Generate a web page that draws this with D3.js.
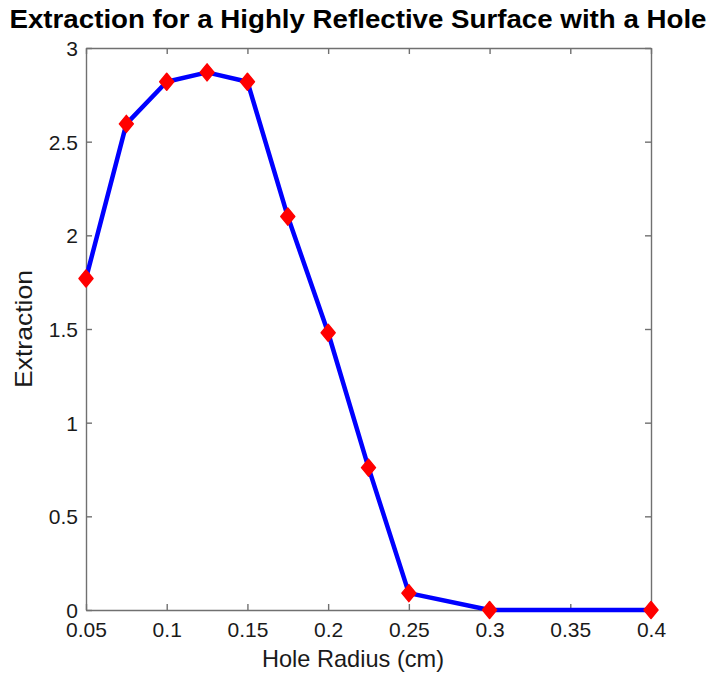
<!DOCTYPE html>
<html>
<head>
<meta charset="utf-8">
<script src="https://d3js.org/d3.v7.min.js"></script>
<style>
  body { margin: 0; background: #fff; }
  svg { display: block; font-family: "Liberation Sans", Arial, sans-serif; }
</style>
</head>
<body>
<div id="chart"></div>
<script>
// Hole radius (cm) vs extraction
const holeRadius = [0.05, 0.075, 0.1, 0.125, 0.15, 0.175, 0.2, 0.225, 0.25, 0.3, 0.4];
const extraction = [1.77, 2.595, 2.82, 2.87, 2.82, 2.10, 1.48, 0.76, 0.09, 0, 0];
const xTicks = [0.05, 0.1, 0.15, 0.2, 0.25, 0.3, 0.35, 0.4];
const yTicks = [0, 0.5, 1, 1.5, 2, 2.5, 3];

const width = 717, height = 677;
const margin = { top: 48, right: 66, bottom: 67, left: 86 };
const innerW = width - margin.left - margin.right;
const innerH = height - margin.top - margin.bottom;
const axisColor = "#707070";
const textColor = "#1a1a1a";

const svg = d3.select("#chart").append("svg")
    .attr("width", width)
    .attr("height", height);

const x = d3.scaleLinear().domain([0.05, 0.4]).range([margin.left, margin.left + innerW]);
const y = d3.scaleLinear().domain([0, 3]).range([margin.top + innerH, margin.top]);

// Title
svg.append("text")
    .attr("x", 358)
    .attr("y", 28)
    .attr("text-anchor", "middle")
    .attr("textLength", 697)
    .attr("lengthAdjust", "spacingAndGlyphs")
    .style("font-size", "25px")
    .style("font-weight", "bold")
    .attr("fill", "#000")
    .text("Extraction for a Highly Reflective Surface with a Hole");

// Axes (ticks point inward, MATLAB style)
const fmt = d => String(d);
const tickLen = 6;

function styleAxis(g) {
    g.select(".domain").attr("stroke", axisColor).attr("stroke-width", 1.4);
    g.selectAll(".tick line").attr("stroke", axisColor).attr("stroke-width", 1.4);
    g.selectAll(".tick text").attr("fill", textColor).style("font-size", "21px");
}

svg.append("g")
    .attr("transform", `translate(0,${margin.top + innerH})`)
    .call(d3.axisBottom(x).tickValues(xTicks).tickFormat(fmt).tickSizeInner(-tickLen).tickSizeOuter(0))
    .call(styleAxis)
    .call(g => g.selectAll(".tick text").attr("y", 27).attr("dy", 0));

svg.append("g")
    .attr("transform", `translate(0,${margin.top})`)
    .call(d3.axisTop(x).tickValues(xTicks).tickFormat("").tickSizeInner(-tickLen).tickSizeOuter(0))
    .call(styleAxis);

svg.append("g")
    .attr("transform", `translate(${margin.left},0)`)
    .call(d3.axisLeft(y).tickValues(yTicks).tickFormat(fmt).tickSizeInner(-tickLen).tickSizeOuter(0))
    .call(styleAxis)
    .call(g => g.selectAll(".tick text").attr("x", -8).attr("dy", "0.36em"));

svg.append("g")
    .attr("transform", `translate(${margin.left + innerW},0)`)
    .call(d3.axisRight(y).tickValues(yTicks).tickFormat("").tickSizeInner(-tickLen).tickSizeOuter(0))
    .call(styleAxis);

// Axis labels
svg.append("text")
    .attr("x", 353)
    .attr("y", 667)
    .attr("text-anchor", "middle")
    .attr("textLength", 182)
    .attr("lengthAdjust", "spacingAndGlyphs")
    .style("font-size", "24px")
    .attr("fill", textColor)
    .text("Hole Radius (cm)");

svg.append("text")
    .attr("transform", `translate(32,329) rotate(-90)`)
    .attr("text-anchor", "middle")
    .attr("textLength", 118)
    .attr("lengthAdjust", "spacingAndGlyphs")
    .style("font-size", "24px")
    .attr("fill", textColor)
    .text("Extraction");

// Data
const data = holeRadius.map((r, i) => ({ r, v: extraction[i] }));

const line = d3.line().x(d => x(d.r)).y(d => y(d.v));

svg.append("path")
    .datum(data)
    .attr("fill", "none")
    .attr("stroke", "#0000ff")
    .attr("stroke-width", 4.5)
    .attr("stroke-linejoin", "round")
    .attr("d", line);

const diamond = "M0,-8.5 L7,0 L0,8.5 L-7,0 Z";
svg.append("g")
    .selectAll("path")
    .data(data)
    .join("path")
    .attr("transform", d => `translate(${x(d.r)},${y(d.v)})`)
    .attr("d", diamond)
    .attr("fill", "#ff0000")
    .attr("stroke", "#ff0000")
    .attr("stroke-width", 1.5)
    .attr("stroke-linejoin", "round");
</script>
</body>
</html>
